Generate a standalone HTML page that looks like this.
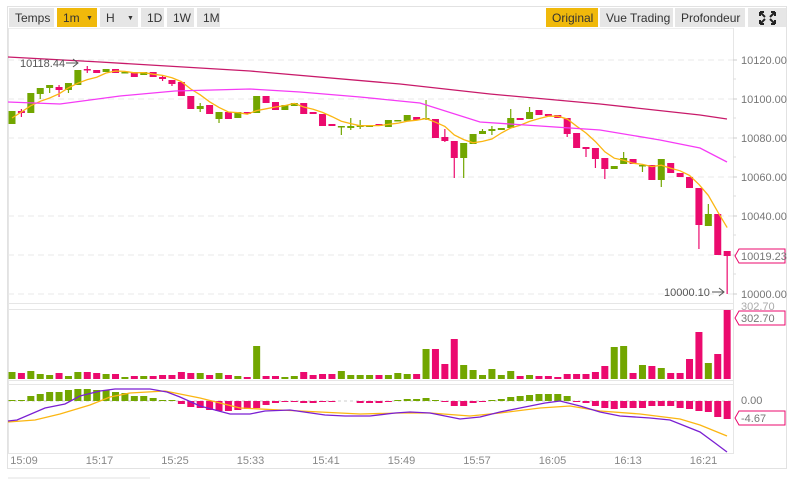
<!DOCTYPE html>
<html><head><meta charset="utf-8">
<style>
body{margin:0;background:#fff;width:796px;height:479px;overflow:hidden;font-family:"Liberation Sans",sans-serif}
svg{position:absolute;left:0;top:0}
</style></head><body>
<svg id="s" width="796" height="479" xmlns="http://www.w3.org/2000/svg" font-family="Liberation Sans, sans-serif"></svg>
<script>
const s=document.getElementById('s');let h='';
const G='#72a600',R='#eb0a6e';
// frame
h+='<rect x="7.5" y="6.5" width="779" height="462" fill="none" stroke="#e2e2e2"/>';
h+='<line x1="8" y1="478" x2="150" y2="478" stroke="#e2e2e2"/>';
// toolbar
const btn=(x,w,t,bg,arrow)=>{h+=`<rect x="${x}" y="8" width="${w}" height="19" fill="${bg}"/><text x="${x+6}" y="22" font-size="12" fill="#333">${t}</text>`;if(arrow)h+=`<text x="${x+w-11}" y="20" font-size="7" fill="#333">▼</text>`;};
btn(9,45,'Temps','#e6e6e6');btn(57,40,'1m','#f0b90b',1);btn(100,38,'H','#e6e6e6',1);btn(141,23,'1D','#e6e6e6');btn(167,27,'1W','#e6e6e6');btn(197,23,'1M','#e6e6e6');
btn(546,52,'Original','#f0b90b');btn(600,73,'Vue Trading','#e6e6e6');btn(675,70,'Profondeur','#e6e6e6');
h+='<rect x="748" y="8" width="38" height="19" fill="#e6e6e6"/>';
h+='<g stroke="#222" stroke-width="2"><path d="M760 12l5 5M760 12h4M760 12v4M775 12l-5 5M775 12h-4M775 12v4M760 24l5-5M760 24h4M760 24v-4M775 24l-5-5M775 24h-4M775 24v-4"/></g>';
// panels
h+='<line x1="8" y1="28.5" x2="733" y2="28.5" stroke="#eee"/>';
[303.5,309.5,380.5,384.5,453.5].forEach(y=>h+=`<line x1="8" y1="${y}" x2="733" y2="${y}" stroke="#e6e6e6"/>`);
h+='<line x1="733.5" y1="28" x2="733.5" y2="454" stroke="#e6e6e6"/><line x1="8.5" y1="28" x2="8.5" y2="454" stroke="#e6e6e6"/>';
const lv=[[60,'10120.00'],[99,'10100.00'],[138,'10080.00'],[177,'10060.00'],[216,'10040.00'],[255,'10020.00'],[294,'10000.00']];
lv.forEach(([y,t])=>{h+=`<line x1="8" y1="${y}" x2="733" y2="${y}" stroke="#e8e8e8" stroke-dasharray="6,4"/><line x1="733" y1="${y}" x2="737" y2="${y}" stroke="#ccc"/>`;if(y!=255)h+=`<text x="741" y="${y+4}" font-size="11" fill="#777">${t}</text>`;});
for(let y=79;y<300;y+=39)h+=`<line x1="733" y1="${y}" x2="736" y2="${y}" stroke="#ddd"/>`;
h+='<line x1="8" y1="401" x2="733" y2="401" stroke="#ccc" stroke-dasharray="3,3"/>';
// candles
const C=[[G,111,124],[R,111,113,109,117],[G,93,113],[G,88,94,88,99],[G,85,88,85,93],[R,87,90,85,97],[G,83,90,83,93],[G,70,85],[R,69,70,66,73],[R,70,73],[G,69,72],[R,69,73],[G,72,73],[R,72,77],[G,72,75],[R,72,77],[R,77,79,75,81],[R,80,84,80,86],[R,82,96],[R,96,109],[G,106,109,103,112],[R,105,114],[G,112,119,112,123],[R,112,119],[G,112,118],[R,112,114],[G,96,113],[R,96,103],[R,102,110],[G,105,110],[G,103,106],[R,103,114],[R,112,114],[R,114,126],[R,124,126],[G,126,127,126,135],[G,126,128,118,130],[G,125,127,120,129],[G,125,127],[R,124,126],[G,120,127],[G,120,121],[G,115,121],[R,117,120],[G,118,119,100,120],[R,119,138],[R,137,141,129,142],[R,141,158,141,178],[G,143,158,143,178],[G,134,144],[G,131,134,129,134],[G,129,131,126,135],[G,128,130],[G,118,128,109,128],[R,118,120],[G,112,119,107,119],[R,110,115],[R,114,116],[R,115,118],[R,118,134,118,137],[R,133,148],[R,147,149,147,157],[R,148,159,148,168],[R,158,169,158,179],[G,166,169],[G,158,164,152,164],[R,159,164],[G,165,166,165,172],[R,165,180],[G,159,180,159,187],[R,163,173],[R,173,177],[R,177,188],[R,188,225,188,249],[G,214,226,204,226],[R,214,255],[R,251,256,251,294]];
const X=i=>12+9.41*i;
const close=C.map(c=>c[0]==G?c[1]:c[2]);
C.forEach((c,i)=>{const x=X(i);const wt=c[3]??c[1],wb=c[4]??c[2];h+=`<line x1="${x}" y1="${wt}" x2="${x}" y2="${wb}" stroke="${c[0]}" stroke-width="1.2"/><rect x="${x-3.5}" y="${c[1]}" width="7" height="${Math.max(1.5,c[2]-c[1])}" fill="${c[0]}"/>`;});
// MAs
const poly=(pts,col,w)=>h+=`<polyline points="${pts.map(p=>p.join(',')).join(' ')}" fill="none" stroke="${col}" stroke-width="${w}"/>`;
const ma=[];for(let i=0;i<C.length;i++){let a=0,n=0;for(let k=Math.max(0,i-4);k<=i;k++){a+=close[k];n++;}ma.push([X(i),(a/n).toFixed(1)]);}
ma[0][1]=118;
poly(ma,'#fbb612',1.3);
poly([[8,102],[60,104],[120,96],[175,91],[250,89],[300,92],[360,97],[420,103],[480,122],[540,126],[600,130],[660,140],[700,148],[727,162]],'#f53bf5',1.3);
poly([[8,57],[100,62],[250,71],[400,84],[490,94],[600,104],[700,115],[727,119]],'#c81a6a',1.3);
// markers
h+='<text x="20" y="67" font-size="11" fill="#555">10118.44</text><path d="M66 63h12M73 59l5 4-5 4" stroke="#555" fill="none"/>';
h+='<text x="664" y="296" font-size="11" fill="#555">10000.10</text><path d="M712 292h12M719 288l5 4-5 4" stroke="#555" fill="none"/>';
const box=(y,t)=>h+=`<path d="M739 ${y-7}h46v14h-46l-4-7z" fill="#fff" stroke="${R}"/><text x="741" y="${y+4}" font-size="11" fill="#777">${t}</text>`;
box(256,'10019.23');
// volume
const V=[7,6,8,5,4,6,3,7,7,6,5,5,2,3,3,3,4,4,7,6,6,4,6,4,3,2,33,3,3,2,3,7,4,5,5,8,4,4,4,4,4,6,5,5,30,30,15,40,14,9,4,10,4,8,3,4,3,3,2,5,5,5,7,13,32,33,6,14,13,11,6,6,20,47,16,25,69];
V.forEach((v,i)=>h+=`<rect x="${X(i)-3.5}" y="${379-v}" width="7" height="${v}" fill="${C[i][0]}"/>`);
h+='<text x="741" y="310" font-size="11" fill="#aaa">302.70</text>';box(318,'302.70');
// MACD
const H=[1,1,5,7,9,9,11,12,12,11,11,9,8,5,5,3,1,1,-3,-6,-7,-9,-10,-10,-9,-8,-7,-4,-2,-1,-1,-2,-2,-1,-1,0,0,-2,-2,-2,-1,1,2,2,3,1,-1,-5,-5,-2,-1,1,2,4,5,6,7,7,7,5,-1,-2,-5,-7,-8,-7,-7,-7,-5,-5,-5,-7,-8,-10,-11,-16,-18];
H.forEach((v,i)=>{if(v==0)return;const y=v>0?401-v:401;h+=`<rect x="${X(i)-3.5}" y="${y}" width="7" height="${Math.abs(v)}" fill="${v>0?G:R}"/>`;});
poly([[8,422],[35,420],[60,414],[90,405],[110,397],[130,393],[165,391],[200,398],[240,408],[280,410],[320,412],[360,414],[400,413],[430,413],[470,416],[500,413],[540,408],[570,406],[600,411],[640,414],[680,419],[700,425],[727,436]],'#fbb612',1.3);
poly([[8,421],[17,420],[45,408],[65,404],[80,396],[100,391],[115,389],[150,389],[167,392],[180,397],[200,406],[230,414],[250,414],[265,411],[290,410],[325,415],[345,416],[370,416],[395,413],[410,412],[430,413],[460,419],[480,417],[500,412],[520,408],[545,403],[560,401],[580,406],[600,412],[620,416],[650,418],[670,420],[700,432],[715,443],[727,452]],'#7a1fd2',1.3);
h+='<text x="741" y="404" font-size="11" fill="#777">0.00</text>';box(418,'-4.67');
// time labels
['15:09','15:17','15:25','15:33','15:41','15:49','15:57','16:05','16:13','16:21'].forEach((t,i)=>h+=`<text x="${24+75.5*i}" y="464" font-size="11" fill="#888" text-anchor="middle">${t}</text>`);
s.innerHTML=h;
</script>
</body></html>
